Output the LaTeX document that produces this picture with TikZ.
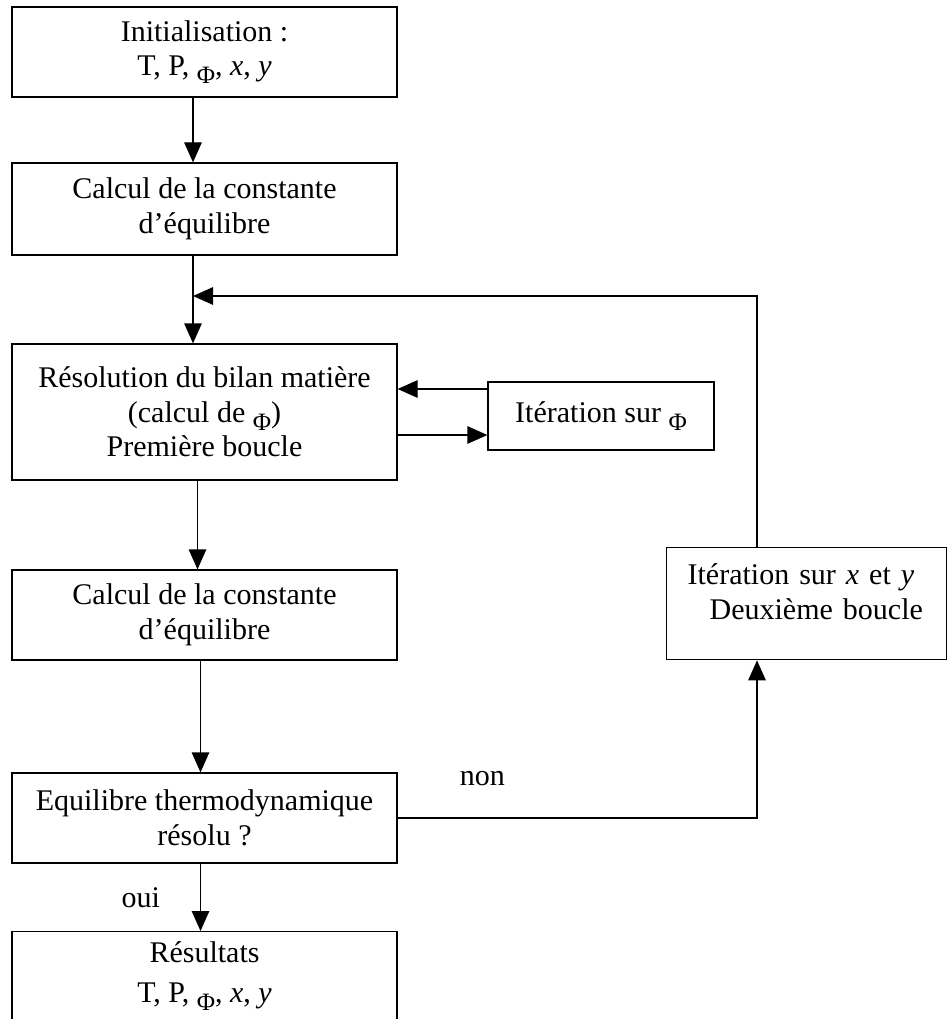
\documentclass[tikz,border=0pt]{standalone}
\usepackage{fontspec}
\setmainfont{Liberation Serif}
\usetikzlibrary{arrows.meta,positioning}
\newcommand{\phisym}{\raisebox{-3.2pt}{\fontsize{10}{10}\selectfont Φ}}

\begin{document}
\begin{tikzpicture}[x=0.4pt, y=-0.4pt,
  box/.style={draw, line width=0.5pt, rectangle, align=center, inner sep=2pt,
              minimum width=154pt, minimum height=36pt,
              font=\fontsize{12}{13.8}\selectfont},
  ar/.style={-{Triangle[length=8pt, width=7pt]}, line width=0.5pt},
  lab/.style={font=\fontsize{12}{13.8}\selectfont, inner sep=0pt},
]
\useasboundingbox (0,0) rectangle (947,1019);
\clip (0,0) rectangle (947,1019);

\node[box] (init)  at (204.5,52)  {Initialisation :\\T, P, \phisym, \textit{x}, \textit{y}};
\node[box, minimum height=36.8pt] (calc1) at (204.5,209) {Calcul de la constante\\d’équilibre};
\node[box, minimum height=54.4pt] (res) at (204.5,412) {Résolution du bilan matière\\(calcul de \phisym)\\Première boucle};
\node[box, minimum width=90.4pt, minimum height=27.2pt] (iphi) at (601,416) {Itération sur \phisym};
\node[box] (calc2) at (204.5,615) {Calcul de la constante\\d’équilibre};
\node[box] (eq)    at (204.5,818) {Equilibre thermodynamique\\résolu ?};
\node[box, anchor=north, minimum height=0pt, inner ysep=4pt, text depth=45pt] (out) at (204.5,931)
  {Résultats\\[2.4pt]T, P, \phisym, \textit{x}, \textit{y}};
\node[box, anchor=north west, align=left, minimum width=112pt, minimum height=0pt,
      text width=95.2pt, inner xsep=8.4pt, inner ysep=6.5pt, text depth=23.5pt] (itxy) at (666,547)
  {Itération sur \textit{x} et \textit{y}\\\hspace*{8.8pt}Deuxième boucle};

\coordinate (join) at (193,296);
\coordinate (loop) at (757,296);
\coordinate (back) at ([yshift=10.8pt]iphi.west);
\coordinate (fwd)  at ([yshift=-7.6pt]iphi.west);

\draw[ar] (init.south -| join) -- (calc1.north -| join);
\draw[ar] (calc1.south -| join) -- (res.north -| join);
\draw[ar] (back) -- (back -| res.east);
\draw[ar] (fwd -| res.east) -- (fwd);
\draw[ar] ([xshift=-2.8pt]res.south) -- ([xshift=-2.8pt]calc2.north);
\draw[ar] ([xshift=-1.6pt]calc2.south) -- ([xshift=-1.6pt]eq.north);
\draw[ar] ([xshift=-1.6pt]eq.south) -- node[lab, left=16pt] {oui} ([xshift=-1.6pt]out.north);
\draw[ar] (eq.east) -| node[lab, pos=0.118, above=12.8pt] {non} (itxy.south -| loop);

% second loop back to the mass balance
\draw[ar] (itxy.north -| loop) -- (loop) -- (join);
\end{tikzpicture}
\end{document}
